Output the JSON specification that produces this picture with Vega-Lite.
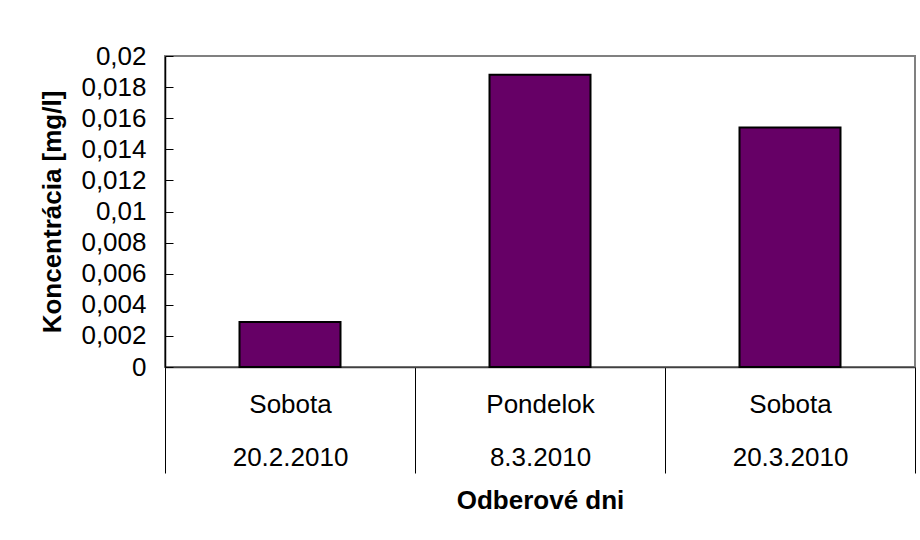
{
  "$schema": "https://vega.github.io/schema/vega-lite/v6.json",
  "autosize": "none",
  "width": 750,
  "height": 311,
  "padding": {"left": 165, "top": 56, "right": 5, "bottom": 173},
  "background": "white",
  "config": {
    "view": {"stroke": "#808080", "strokeWidth": 2},
    "font": "Liberation Sans",
    "axis": {"labelFont": "Liberation Sans", "titleFont": "Liberation Sans", "labelColor": "black", "titleColor": "black"}
  },
  "data": {
    "values": [
      {"odber": "Sobota|20.2.2010", "koncentracia": 0.0029},
      {"odber": "Pondelok|8.3.2010", "koncentracia": 0.0188},
      {"odber": "Sobota|20.3.2010", "koncentracia": 0.0154}
    ]
  },
  "mark": {"type": "bar", "fill": "#660066", "stroke": "black", "strokeWidth": 2, "width": {"band": 0.404}},
  "encoding": {
    "x": {
      "field": "odber",
      "type": "nominal",
      "sort": null,
      "scale": {"paddingInner": 0, "paddingOuter": 0},
      "axis": {
        "title": "Odberové dni",
        "titleFontSize": 26,
        "titleFontWeight": "bold",
        "titleY": 133,
        "titleBaseline": "middle",
        "labelAngle": 0,
        "labelExpr": "isValid(datum.value) ? split(datum.value, '|') : ''",
        "labelFontSize": 26,
        "labelLineHeight": 53,
        "labelBaseline": "middle",
        "labelPadding": -69,
        "tickBand": "extent",
        "tickSize": 106,
        "tickColor": "black",
        "tickWidth": 1,
        "domainColor": "#404040",
        "domainWidth": 1.5
      }
    },
    "y": {
      "field": "koncentracia",
      "type": "quantitative",
      "scale": {"domain": [0, 0.02], "nice": false},
      "axis": {
        "title": "Koncentrácia [mg/l]",
        "titleFontSize": 26,
        "titleFontWeight": "bold",
        "titleX": -112.5,
        "titleY": 155.5,
        "titleBaseline": "middle",
        "values": [0, 0.002, 0.004, 0.006, 0.008, 0.01, 0.012, 0.014, 0.016, 0.018, 0.02],
        "labelExpr": "replace(format(datum.value, ''), '.', ',')",
        "labelFontSize": 26,
        "labelBaseline": "middle",
        "labelFlush": false,
        "labelOverlap": false,
        "tickSize": -8,
        "labelPadding": 27,
        "tickColor": "black",
        "domainColor": "black",
        "domainWidth": 1.5,
        "grid": false
      }
    }
  }
}
